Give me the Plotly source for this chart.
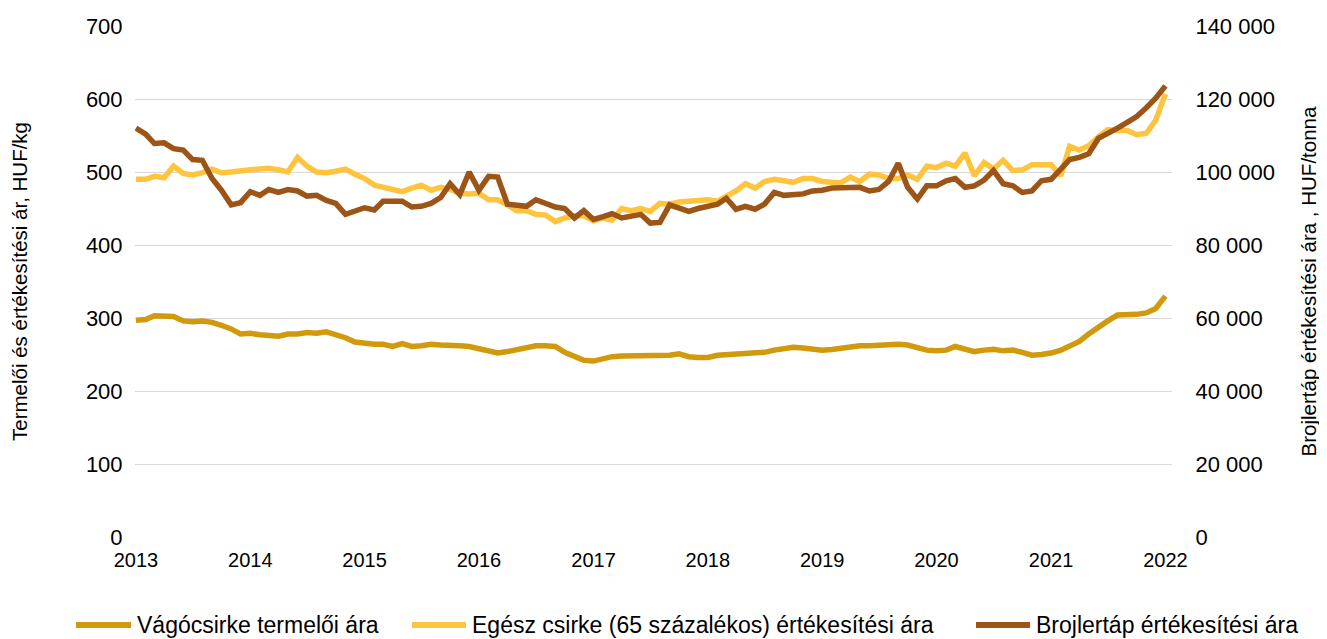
import pandas as pd
import plotly.graph_objects as go

# havi adatok 2013-01 .. 2022-01
months = pd.date_range('2013-01-01', '2022-01-01', freq='MS')

vagocsirke = [
    297, 298, 303, 302, 302, 296, 295, 296, 294, 290, 285, 278,
    279, 277, 276, 275, 278, 278, 280, 279, 281, 277, 273, 267,
    265, 264, 264, 261, 265, 261, 262, 264, 263, 263, 262, 261,
    258, 254, 252, 254, 257, 260, 262, 262, 261, 253, 247, 242,
    241, 245, 247, 248, 248, 248, 248, 248, 249, 251, 247, 246,
    246, 249, 250, 251, 251, 252, 253, 256, 259, 260, 259, 258,
    256, 257, 259, 260, 262, 262, 263, 263, 264, 263, 259, 256,
    255, 256, 261, 257, 254, 256, 257, 255, 256, 253, 249, 250,
    252, 256, 262, 268, 278, 288, 296, 304, 304, 305, 307, 313,
    330,
]

egesz_csirke = [
    490, 490, 494, 492, 508, 498, 496, 499, 504, 499, 500, 502,
    503, 504, 505, 503, 500, 520, 508, 500, 499, 501, 504, 497,
    491, 482, 479, 475, 473, 478, 482, 475, 479, 476, 471, 470,
    471, 462, 462, 455, 447, 447, 442, 441, 432, 437, 440, 440,
    433, 437, 434, 450, 447, 450, 446, 457, 456, 459, 460, 462,
    462, 460, 466, 474, 484, 478, 487, 490, 488, 486, 491, 491,
    487, 486, 485, 493, 487, 497, 496, 491, 491, 496, 490, 508,
    506, 512, 508, 526, 495, 513, 504, 516, 502, 503, 510, 510,
    510, 495, 535, 530, 536, 548, 558, 557, 557, 551, 553, 571,
    607,
]

brojlertap = [
    112000, 110400, 107800, 108000, 106400, 106000, 103400, 103200, 98200, 95000, 91000, 91600,
    94600, 93600, 95200, 94400, 95200, 94800, 93400, 93600, 92200, 91400, 88400, 89400,
    90200, 89600, 92000, 92000, 92000, 90400, 90600, 91400, 93000, 96800, 93800, 100000,
    95000, 98800, 98600, 91200, 91000, 90600, 92400, 91400, 90400, 90000, 87400, 89400,
    87000, 87800, 88600, 87400, 88000, 88400, 86000, 86200, 91000, 90000, 89200, 90000,
    90600, 91200, 92800, 89800, 90600, 89800, 91200, 94400, 93600, 93800, 94000, 94800,
    95000, 95600, 95600, 95800, 95800, 94800, 95200, 97400, 102400, 95800, 92600, 96200,
    96200, 97600, 98200, 95800, 96200, 97800, 100400, 96800, 96200, 94400, 94800, 97600,
    98000, 100800, 103400, 104000, 105000, 109200, 110400, 112000, 113600, 115200, 117600, 120200,
    123600,
]

names = ['Vágócsirke termelői ára',
         'Egész csirke (65 százalékos) értékesítési ára',
         'Brojlertáp értékesítési ára']
colors = ['#D09A0C', '#FFC43D', '#9C5517']

fig = go.Figure()
fig.add_trace(go.Scatter(x=months, y=vagocsirke, name=names[0], mode='lines',
                         line=dict(color=colors[0], width=5.5)))
fig.add_trace(go.Scatter(x=months, y=egesz_csirke, name=names[1], mode='lines',
                         line=dict(color=colors[1], width=5.5)))
fig.add_trace(go.Scatter(x=months, y=brojlertap, name=names[2], mode='lines', yaxis='y2',
                         line=dict(color=colors[2], width=5.5)))

# kézi jelmagyarázat a diagram alatt (egy sorban, mint az eredetin)
leg_line_x = [(-0.0569, -0.0039), (0.2671, 0.3192), (0.8110, 0.8631)]
leg_text_x = [0.0000, 0.3230, 0.8669]
leg_y = -0.1722
for (x0, x1), tx, name, col in zip(leg_line_x, leg_text_x, names, colors):
    fig.add_shape(type='line', xref='paper', yref='paper', x0=x0, x1=x1, y0=leg_y, y1=leg_y,
                  line=dict(color=col, width=6))
    fig.add_annotation(xref='paper', yref='paper', x=tx, y=leg_y, text=name, showarrow=False,
                       xanchor='left', yanchor='middle', font=dict(size=23))

fig.update_layout(
    width=1319, height=631,
    margin=dict(l=127, r=155, t=18, b=102),
    paper_bgcolor='white', plot_bgcolor='white',
    font=dict(family='Liberation Sans, Arial, sans-serif', size=22, color='#000'),
    separators=', ',
    showlegend=False,
    xaxis=dict(type='date', range=['2012-12-29', '2022-01-22'], dtick='M12', tickformat='%Y',
               tick0='2013-01-01', showgrid=False, zeroline=False, showline=False,
               ticks='outside', ticklen=5, tickcolor='rgba(0,0,0,0)', tickfont=dict(size=20),
               automargin=False),
    yaxis=dict(range=[0, 700], dtick=100, showgrid=True, gridcolor='#d9d9d9', gridwidth=1,
               zeroline=False, ticks='outside', ticklen=7, tickcolor='rgba(0,0,0,0)',
               automargin=False,
               title=dict(text='Termelői és értékesítési ár, HUF/kg', font=dict(size=20.5), standoff=54)),
    yaxis2=dict(range=[0, 140000], dtick=20000, overlaying='y', side='right', showgrid=False,
                zeroline=False, tickformat=',d', ticks='outside', ticklen=18,
                tickcolor='rgba(0,0,0,0)', automargin=False,
                title=dict(text='Brojlertáp értékesítési ára , HUF/tonna', font=dict(size=20.5), standoff=27)),
)

fig.write_html('out.html')
